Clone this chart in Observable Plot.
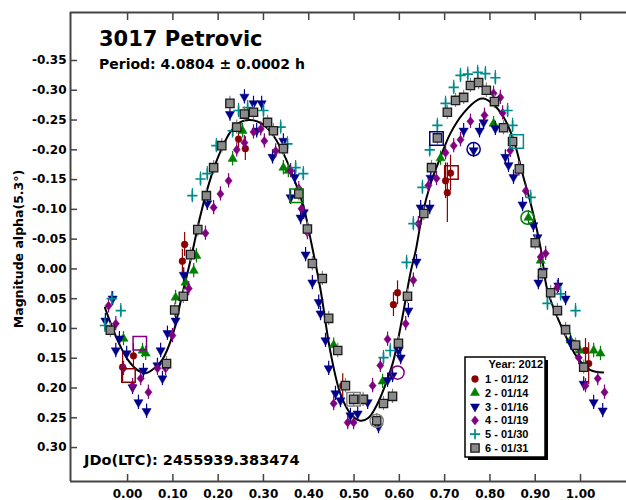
<!DOCTYPE html>
<html>
<head>
<meta charset="utf-8">
<script src="https://cdn.jsdelivr.net/npm/d3@7"></script>
<script src="https://cdn.jsdelivr.net/npm/@observablehq/plot@0.6"></script>
<style>
  body { margin: 0; background: #fff; }
  #chart { width: 626px; height: 500px; }
  #chart svg { display: block; }
</style>
</head>
<body>
<div id="chart"></div>
<script>
// Light curve of asteroid 3017 Petrovic, folded on P = 4.0804 h (2012 sessions)

const titleText = "3017 Petrovic";
const periodText = "Period: 4.0804 \u00b1 0.0002 h";
const epochText = "JDo(LTC): 2455939.383474";
const yLabel = "Magnitude alpha(5.3\u00b0)";
const legendTitle = "Year: 2012";
const sessionNames = ["1 - 01/12", "2 - 01/14", "3 - 01/16", "4 - 01/19", "5 - 01/30", "6 - 01/31"];

const xTicks = [0.00, 0.10, 0.20, 0.30, 0.40, 0.50, 0.60, 0.70, 0.80, 0.90, 1.00];
const yTicks = [-0.35, -0.30, -0.25, -0.20, -0.15, -0.10, -0.05, 0.00, 0.05, 0.10, 0.15, 0.20, 0.25, 0.30];

// session 1 (01/12): [phase, mag, error]
const s1 = [
  [-0.011, 0.165, 0.025], [0.013, 0.146, 0.02], [0.121, -0.013, 0.02], [0.126, -0.041, 0.02],
  [0.245, -0.218, 0.02], [0.260, -0.202, 0.02], [0.475, 0.196, 0.02], [0.587, 0.060, 0.02],
  [0.596, 0.040, 0.02], [0.702, -0.148, 0.03], [0.706, -0.128, 0.05], [0.713, -0.161, 0.03],
  [1.011, 0.137, 0.02], [1.018, 0.159, 0.035]
];
// sessions 2-6: [phase, mag]
const s2 = [
  [-0.009, 0.117], [0.033, 0.137], [0.040, 0.142], [0.106, 0.048], [0.128, 0.023], [0.146, 0.003],
  [0.152, -0.022], [0.232, -0.185], [0.254, -0.232], [0.344, -0.170], [0.355, -0.165], [0.455, 0.128],
  [0.563, 0.189], [0.691, -0.186], [0.808, -0.244], [0.885, -0.086], [0.912, -0.014], [0.978, 0.120],
  [0.998, 0.137], [1.029, 0.137], [1.044, 0.142]
];
const s3 = [
  [-0.049, 0.087], [-0.033, 0.050], [-0.026, 0.137], [-0.018, 0.117], [-0.002, 0.142], [0.011, 0.199],
  [0.024, 0.224], [0.035, 0.171], [0.042, 0.239], [0.066, 0.162], [0.073, 0.137], [0.077, 0.184],
  [0.088, 0.108], [0.106, 0.087], [0.124, 0.010], [0.176, -0.110], [0.226, -0.260], [0.258, -0.289],
  [0.278, -0.278], [0.285, -0.232], [0.296, -0.278], [0.320, -0.188], [0.344, -0.215], [0.360, -0.120],
  [0.369, -0.154], [0.382, -0.086], [0.389, -0.095], [0.393, -0.024], [0.408, 0.023], [0.422, 0.056],
  [0.426, 0.075], [0.437, 0.120], [0.444, 0.167], [0.459, 0.209], [0.470, 0.221], [0.492, 0.246],
  [0.508, 0.243], [0.530, 0.224], [0.554, 0.265], [0.574, 0.187], [0.585, 0.179], [0.598, 0.137],
  [0.603, 0.149], [0.620, 0.070], [0.638, -0.012], [0.647, -0.103], [0.667, -0.103], [0.669, -0.153],
  [0.742, -0.232], [0.764, -0.199], [0.777, -0.232], [0.786, -0.246], [0.812, -0.236], [0.834, -0.188],
  [0.841, -0.174], [0.852, -0.154], [0.872, -0.108], [0.896, -0.073], [0.905, -0.053], [0.907, 0.023],
  [0.918, 0.003], [0.951, 0.028], [0.967, 0.050], [0.978, 0.124], [1.007, 0.193], [1.029, 0.224],
  [1.049, 0.238]
];
const s4 = [
  [-0.042, 0.062], [-0.026, 0.092], [-0.009, 0.167], [0.011, 0.196], [0.029, 0.184], [0.046, 0.207],
  [0.066, 0.167], [0.084, 0.167], [0.099, 0.112], [0.135, 0.033], [0.172, -0.060], [0.190, -0.103],
  [0.205, -0.126], [0.223, -0.148], [0.241, -0.200], [0.258, -0.212], [0.278, -0.230], [0.294, -0.235],
  [0.302, -0.215], [0.327, -0.198], [0.360, -0.165], [0.378, -0.135], [0.384, -0.101], [0.397, -0.061],
  [0.455, 0.226], [0.486, 0.258], [0.499, 0.258], [0.541, 0.196], [0.558, 0.162], [0.574, 0.118],
  [0.614, 0.092], [0.631, 0.019], [0.642, -0.076], [0.664, -0.140], [0.682, -0.152], [0.702, -0.195],
  [0.720, -0.207], [0.735, -0.217], [0.757, -0.248], [0.788, -0.258], [0.808, -0.295], [0.823, -0.288],
  [0.828, -0.262], [0.845, -0.199], [0.863, -0.168], [0.879, -0.131], [0.912, -0.020], [0.923, -0.026],
  [0.949, 0.031], [0.996, 0.149], [1.011, 0.196], [1.038, 0.184], [1.053, 0.207]
];
const s5 = [
  [-0.050, 0.095], [-0.035, 0.050], [-0.015, 0.070], [0.143, -0.123], [0.161, -0.151], [0.176, -0.160],
  [0.196, -0.207], [0.232, -0.232], [0.245, -0.266], [0.265, -0.271], [0.300, -0.266], [0.338, -0.238],
  [0.353, -0.210], [0.371, -0.170], [0.388, -0.160], [0.565, 0.149], [0.580, 0.137], [0.616, -0.011],
  [0.631, -0.076], [0.651, -0.137], [0.667, -0.200], [0.684, -0.241], [0.702, -0.278], [0.720, -0.305],
  [0.735, -0.325], [0.751, -0.327], [0.773, -0.330], [0.790, -0.328], [0.812, -0.321], [0.839, -0.266],
  [0.850, -0.241], [0.890, -0.120], [0.927, 0.058], [0.956, 0.042], [0.989, 0.070]
];
const s6 = [
  [-0.038, 0.103], [0.086, 0.159], [0.104, 0.069], [0.123, 0.046], [0.139, -0.024], [0.155, -0.066],
  [0.174, -0.123], [0.190, -0.170], [0.208, -0.207], [0.226, -0.278], [0.241, -0.238], [0.258, -0.260],
  [0.278, -0.263], [0.309, -0.246], [0.322, -0.232], [0.344, -0.202], [0.378, -0.126], [0.397, -0.067],
  [0.408, -0.009], [0.430, 0.016], [0.444, 0.083], [0.464, 0.137], [0.481, 0.196], [0.499, 0.219],
  [0.520, 0.219], [0.550, 0.255], [0.565, 0.226], [0.585, 0.214], [0.598, 0.125], [0.618, 0.046],
  [0.654, -0.093], [0.671, -0.170], [0.684, -0.220], [0.706, -0.263], [0.724, -0.283], [0.742, -0.288],
  [0.757, -0.308], [0.775, -0.313], [0.792, -0.300], [0.810, -0.281], [0.830, -0.237], [0.850, -0.214],
  [0.865, -0.168], [0.900, -0.044], [0.916, 0.008], [0.934, 0.040], [0.949, 0.070], [0.967, 0.102],
  [0.989, 0.128], [1.007, 0.165]
];
const commonError = 0.012;

// first point of each session, ringed: [phase, mag, session]
const firstSquares = [
  [0.027, 0.125, 4], [0.002, 0.179, 1], [0.373, -0.123, 2], [0.499, 0.219, 6],
  [0.682, -0.219, 3], [0.715, -0.162, 1], [0.859, -0.214, 5]
];
const firstCircles = [
  [0.596, 0.174, 4], [0.550, 0.255, 6], [0.764, -0.201, 3], [0.883, -0.086, 2]
];

// Fourier fit curve: [phase, mag]
const fitCurve = [
  [-0.050, 0.065], [-0.037, 0.092], [-0.022, 0.120], [0.000, 0.152], [0.022, 0.170], [0.040, 0.175],
  [0.057, 0.168], [0.077, 0.152], [0.100, 0.110], [0.120, 0.045], [0.140, -0.018], [0.160, -0.087],
  [0.180, -0.144], [0.200, -0.188], [0.227, -0.230], [0.250, -0.247], [0.270, -0.250], [0.294, -0.245],
  [0.316, -0.230], [0.344, -0.194], [0.366, -0.154], [0.389, -0.103], [0.404, -0.050], [0.426, 0.035],
  [0.448, 0.140], [0.470, 0.210], [0.492, 0.243], [0.514, 0.255], [0.532, 0.250], [0.552, 0.226],
  [0.570, 0.193], [0.587, 0.154], [0.607, 0.080], [0.625, 0.005], [0.636, -0.030], [0.651, -0.092],
  [0.669, -0.143], [0.691, -0.188], [0.713, -0.228], [0.742, -0.262], [0.773, -0.284], [0.786, -0.286],
  [0.808, -0.276], [0.830, -0.255], [0.852, -0.217], [0.874, -0.154], [0.890, -0.110], [0.912, -0.035],
  [0.927, 0.036], [0.962, 0.104], [0.993, 0.149], [1.022, 0.170], [1.050, 0.174]
];

// ---- styling ----
const colors = {1: "#8b0000", 2: "#008000", 3: "#00008b", 4: "#800080", 5: "#008b8b", 6: "#808080"};
const triangleDown = {
  draw(ctx, size) {
    const h = Math.sqrt(size / (Math.sqrt(3) * 3));
    ctx.moveTo(0, 2 * h);
    ctx.lineTo(-Math.sqrt(3) * h, -h);
    ctx.lineTo(Math.sqrt(3) * h, -h);
    ctx.closePath();
  }
};
// rhombus a little wider than d3's diamond
const diamondWide = {
  draw(ctx, size) {
    const h = Math.sqrt(size / 1.6);
    const w = 0.8 * h;
    ctx.moveTo(0, -h);
    ctx.lineTo(w, 0);
    ctx.lineTo(0, h);
    ctx.lineTo(-w, 0);
    ctx.closePath();
  }
};
const sessionStyle = {
  1: {symbol: d3.symbolCircle, r: 3.4, fill: colors[1], stroke: colors[1], strokeWidth: 0.5},
  2: {symbol: d3.symbolTriangle, r: 3.4, fill: colors[2], stroke: colors[2], strokeWidth: 0.5},
  3: {symbol: triangleDown, r: 3.4, fill: colors[3], stroke: colors[3], strokeWidth: 0.5},
  4: {symbol: diamondWide, r: 3.2, fill: colors[4], stroke: colors[4], strokeWidth: 0.5},
  5: {symbol: d3.symbolPlus, r: 3.4, fill: "none", stroke: colors[5], strokeWidth: 1.7},
  6: {symbol: d3.symbolSquare, r: 4.7, fill: "#8a8a8a", stroke: "#1a1a1a", strokeWidth: 1.3}
};

const xDomain = [-0.126, 1.1015];
const yDomain = [-0.4306, 0.357];
const fmt = d => d.toFixed(2);
const axisColor = "#444";

const sessions = [
  [1, s1.map(d => ({x: d[0], y: d[1], e: d[2]}))],
  [2, s2.map(d => ({x: d[0], y: d[1], e: commonError}))],
  [3, s3.map(d => ({x: d[0], y: d[1], e: commonError}))],
  [4, s4.map(d => ({x: d[0], y: d[1], e: commonError}))],
  [5, s5.map(d => ({x: d[0], y: d[1], e: commonError}))],
  [6, s6.map(d => ({x: d[0], y: d[1], e: commonError}))]
];

const sessionMarks = sessions.flatMap(([k, pts]) => [
  Plot.ruleX(pts, {x: "x", y1: d => d.y - d.e, y2: d => d.y + d.e, stroke: colors[k], strokeWidth: 1.2}),
  Plot.dot(pts, {x: "x", y: "y", ...sessionStyle[k]})
]);

const plot = Plot.plot({
  width: 626,
  height: 500,
  marginLeft: 70,
  marginRight: 0,
  marginTop: 12,
  marginBottom: 19,
  style: {fontFamily: "DejaVu Sans", background: "#fff", overflow: "visible"},
  x: {domain: xDomain, label: null},
  y: {domain: yDomain, reverse: true, label: null},
  marks: [
    Plot.axisY({ticks: yTicks, tickFormat: fmt, tickSize: -7, tickPadding: 11, stroke: axisColor,
      strokeWidth: 1.5, fontSize: 12, fontWeight: "bold", fill: "#000", label: null}),
    Plot.axisX({anchor: "bottom", ticks: xTicks, tickFormat: fmt, tickSize: -7, tickPadding: 15, stroke: axisColor,
      strokeWidth: 1.5, fontSize: 12, fontWeight: "bold", fill: "#000", label: null}),
    Plot.axisX({anchor: "top", ticks: xTicks, tickFormat: () => "", tickSize: -7, tickPadding: 0,
      stroke: axisColor, strokeWidth: 1.5, label: null}),
    Plot.ruleX([xDomain[0]], {stroke: axisColor, strokeWidth: 2}),
    Plot.ruleY([yDomain[0]], {stroke: axisColor, strokeWidth: 2}),
    Plot.ruleY([yDomain[1]], {stroke: axisColor, strokeWidth: 2}),
    Plot.line(fitCurve, {x: d => d[0], y: d => d[1], curve: "catmull-rom", stroke: "#000", strokeWidth: 2}),
    ...sessionMarks,
    Plot.dot(firstSquares, {
      x: d => d[0], y: d => d[1], symbol: "square", r: 7.6,
      stroke: d => colors[d[2]], fill: "none", strokeWidth: 1.5
    }),
    Plot.dot(firstCircles, {
      x: d => d[0], y: d => d[1], symbol: "circle", r: 6.6,
      stroke: d => colors[d[2]], fill: "none", strokeWidth: 1.5
    })
  ]
});

document.getElementById("chart").appendChild(plot);

// ---- annotations and legend ----
const svg = d3.select(plot);
const ann = svg.append("g").attr("font-family", "DejaVu Sans").attr("font-weight", "bold")
  .attr("fill", "#000").attr("text-anchor", "start");
ann.append("text").attr("x", 99).attr("y", 46).attr("font-size", 21).text(titleText);
ann.append("text").attr("x", 99).attr("y", 69).attr("font-size", 14).text(periodText);
ann.append("text").attr("x", 84).attr("y", 465).attr("font-size", 14.5).text(epochText);
ann.append("text").attr("transform", "translate(23,249) rotate(-90)").attr("text-anchor", "middle")
  .attr("font-size", 12.5).text(yLabel);

const lg = svg.append("g").attr("font-family", "'Liberation Sans', Arial").attr("font-weight", "bold")
  .attr("font-size", 11).attr("text-anchor", "start");
lg.append("rect").attr("x", 468).attr("y", 360).attr("width", 80).attr("height", 100).attr("fill", "#000");
lg.append("rect").attr("x", 465).attr("y", 357).attr("width", 80).attr("height", 100)
  .attr("fill", "#fff").attr("stroke", "#000").attr("stroke-width", 1.5);
lg.append("text").attr("x", 543).attr("y", 368).attr("text-anchor", "end").text(legendTitle);
sessionNames.forEach((name, i) => {
  const k = i + 1, st = sessionStyle[k];
  const yy = 383 + i * 13.8;
  lg.append("path").attr("transform", `translate(475,${yy - 4})`)
    .attr("d", d3.symbol(st.symbol, st.r * st.r * Math.PI)())
    .attr("fill", st.fill).attr("stroke", st.stroke).attr("stroke-width", st.strokeWidth);
  lg.append("text").attr("x", 485).attr("y", yy).text(name);
});
</script>
</body>
</html>
